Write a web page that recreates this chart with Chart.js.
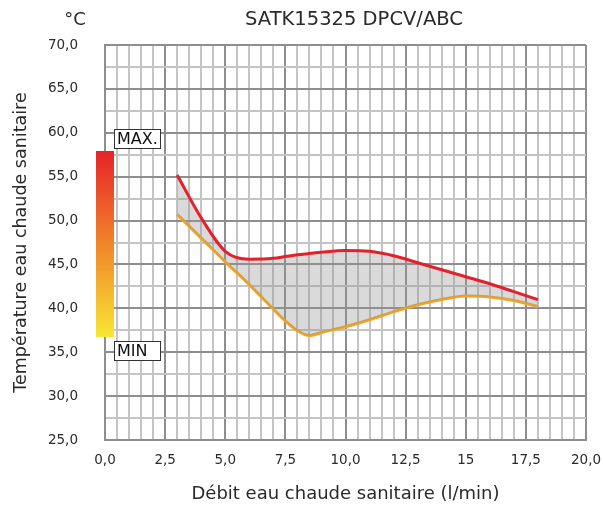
<!DOCTYPE html>
<html><head><meta charset="utf-8">
<script src="https://cdn.jsdelivr.net/npm/chart.js@4/dist/chart.umd.min.js"></script>
<style>html,body{margin:0;padding:0;background:#fff}</style>
</head><body>
<canvas id="c" width="603" height="505"></canvas>
<script>
const chartTitle = 'SATK15325 DPCV/ABC';
const unitLabel = '°C';
const xTitle = 'Débit eau chaude sanitaire (l/min)';
const yTitle = 'Température eau chaude sanitaire';
const flow    = [3, 4, 5, 6, 7, 7.5, 8, 8.5, 9, 10, 11, 12, 13, 14, 15, 16, 17, 18];
const tempMax = [55.2, 50.3, 46.5, 45.6, 45.7, 45.9, 46.1, 46.25, 46.4, 46.6, 46.5, 46.0, 45.2, 44.4, 43.6, 42.8, 41.9, 41.0];
const tempMin = [50.7, 48.0, 45.3, 42.7, 39.9, 38.55, 37.45, 36.9, 37.25, 37.9, 38.7, 39.6, 40.4, 41.0, 41.4, 41.3, 40.9, 40.2];
const xTickLabels = ['0,0','2,5','5,0','7,5','10,0','12,5','15','17,5','20,0'];
const yTickLabels = ['25,0','30,0','35,0','40,0','45,0','50,0','55,0','60,0','65,0','70,0'];
const legendLabels = ['MAX.', 'MIN'];

const FAM = 'DejaVu Sans';
const TXT = '#2a2a2a';
const MAJ = '#8e8e8e', MIN_C = '#c4c4c4';

const isMult = (v, s) => Math.abs(v / s - Math.round(v / s)) < 1e-6;

const overlay = {
  id: 'overlay',
  afterDraw(chart) {
    const ctx = chart.ctx;
    ctx.save();
    ctx.fillStyle = TXT;
    ctx.textBaseline = 'middle';
    ctx.textAlign = 'center';
    ctx.font = '19.5px "' + FAM + '"';
    ctx.fillText(chartTitle, 354, 20);
    ctx.font = '18px "' + FAM + '"';
    ctx.fillText(unitLabel, 75, 20);
    const g = ctx.createLinearGradient(0, 151, 0, 337);
    g.addColorStop(0, '#e82229');
    g.addColorStop(0.5, '#f0852a');
    g.addColorStop(1, '#f8e634');
    ctx.fillStyle = g;
    ctx.fillRect(96, 151, 18, 186);
    const boxes = [[114, 129, legendLabels[0]], [114, 341, legendLabels[1]]];
    ctx.font = '16px "' + FAM + '"';
    ctx.textAlign = 'left';
    for (const [bx, by, t] of boxes) {
      ctx.fillStyle = '#fff';
      ctx.fillRect(bx, by, 47, 20);
      ctx.strokeStyle = '#333';
      ctx.lineWidth = 1;
      ctx.strokeRect(bx + 0.5, by + 0.5, 46, 19);
      ctx.fillStyle = '#111';
      ctx.fillText(t, bx + 3, by + 11);
    }
    ctx.restore();
  }
};

new Chart(document.getElementById('c'), {
  type: 'line',
  data: {
    datasets: [
      {
        label: 'MAX',
        data: flow.map((x, i) => ({x, y: tempMax[i]})),
        borderColor: '#e4202a',
        borderWidth: 3,
        pointRadius: 0,
        cubicInterpolationMode: 'monotone',
        fill: '+1',
        backgroundColor: 'rgba(150,150,150,0.35)'
      },
      {
        label: 'MIN',
        data: flow.map((x, i) => ({x, y: tempMin[i]})),
        borderColor: '#f5a51f',
        borderWidth: 3,
        pointRadius: 0,
        cubicInterpolationMode: 'monotone',
        fill: false
      }
    ]
  },
  options: {
    responsive: false,
    animation: false,
    layout: { padding: { top: 45, right: 17, left: 0, bottom: 0 } },
    plugins: { legend: { display: false }, tooltip: { enabled: false } },
    scales: {
      x: {
        type: 'linear', min: 0, max: 20,
        afterFit(s) { s.height = 65; s.paddingLeft = 0; s.paddingRight = 0; },
        grid: {
          drawTicks: false, lineWidth: 2,
          color: c => isMult(c.tick.value, 2.5) ? MAJ : MIN_C
        },
        border: { display: true, color: MAJ, width: 2 },
        ticks: {
          stepSize: 0.5, autoSkip: false, maxRotation: 0, maxTicksLimit: 1000,
          padding: 12, color: TXT, font: { family: FAM, size: 13.5 },
          callback: v => isMult(v, 2.5) ? xTickLabels[Math.round(v / 2.5)] : ''
        },
        title: {
          display: true, text: xTitle, color: TXT,
          font: { family: FAM, size: 18 }, padding: { top: 0, bottom: 0 }
        }
      },
      y: {
        type: 'linear', min: 25, max: 70,
        afterFit(s) { s.width = 105; s.paddingTop = 0; s.paddingBottom = 0; },
        grid: {
          drawTicks: false, lineWidth: 2,
          color: c => isMult(c.tick.value, 5) ? MAJ : MIN_C
        },
        border: { display: true, color: MAJ, width: 2 },
        ticks: {
          stepSize: 2.5, autoSkip: false, maxTicksLimit: 1000,
          padding: 27, color: TXT, font: { family: FAM, size: 13.5 },
          callback: v => isMult(v, 5) ? yTickLabels[Math.round((v - 25) / 5)] : ''
        },
        title: {
          display: true, text: yTitle, color: TXT,
          font: { family: FAM, size: 17.5 }, padding: { top: 11, bottom: 0 }
        }
      }
    }
  },
  plugins: [overlay]
});
</script>
</body></html>
